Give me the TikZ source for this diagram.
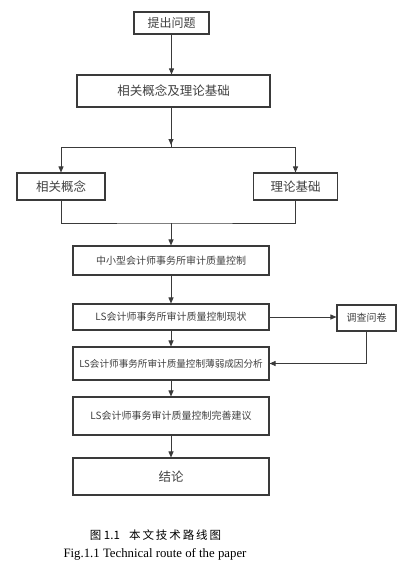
\documentclass[tikz,border=0pt]{standalone}
\usepackage{fontspec}
\newfontfamily\cjk{Noto Sans CJK SC}
\newfontfamily\enserif{Liberation Serif}
\usetikzlibrary{arrows.meta}
\definecolor{ln}{HTML}{3A3A3A}
\definecolor{tx}{HTML}{404040}
\begin{document}
\begin{tikzpicture}[x=1pt,y=-1pt,
  box/.style={draw=ln,line width=1.1pt,rectangle,inner sep=0pt,text=tx,font=\cjk},
  arr/.style={draw=ln,line width=0.9pt,-{Triangle[length=6pt,width=5pt]}},
  ln/.style={draw=ln,line width=0.9pt}]
\useasboundingbox (0,0) rectangle (405,573);
\node[box,minimum width=75pt,minimum height=22pt,font=\cjk\fontsize{12}{14}\selectfont] (q) at (171.5,23) {提出问题};
\node[box,minimum width=193pt,minimum height=32pt,font=\cjk\fontsize{12.5}{14}\selectfont] (b) at (173.5,91) {相关概念及理论基础};
\node[box,minimum width=88pt,minimum height=27pt,font=\cjk\fontsize{12.5}{14}\selectfont] (l) at (61,186.5) {相关概念};
\node[box,minimum width=84pt,minimum height=27pt,font=\cjk\fontsize{12.5}{14}\selectfont] (r) at (295.5,186.5) {理论基础};
\node[box,minimum width=196pt,minimum height=29pt,font=\cjk\fontsize{10}{12}\selectfont] (c1) at (171,260.5) {中小型会计师事务所审计质量控制};
\node[box,minimum width=196pt,minimum height=26pt,font=\cjk\fontsize{10}{12}\selectfont] (c2) at (171,317) {LS会计师事务所审计质量控制现状};
\node[box,minimum width=59pt,minimum height=26pt,font=\cjk\fontsize{10}{12}\selectfont] (s) at (366.5,318) {调查问卷};
\node[box,minimum width=196pt,minimum height=33pt,font=\cjk\fontsize{9.6}{12}\selectfont] (c3) at (171,363.5) {LS会计师事务所审计质量控制薄弱成因分析};
\node[box,minimum width=196pt,minimum height=38pt,font=\cjk\fontsize{10}{12}\selectfont] (c4) at (171,416) {LS会计师事务审计质量控制完善建议};
\node[box,minimum width=196pt,minimum height=37pt,font=\cjk\fontsize{12.5}{14}\selectfont] (c5) at (171,476.5) {结论};
\coordinate (fork) at (171,147);
\coordinate (join) at (171,223);
\draw[arr] (q.south) -- (q.south |- b.north);
\draw[ln] (b.south -| fork) -- (fork);
\draw[arr] (b.south -| fork) -- ([yshift=2pt]fork);
\draw[arr] (fork) -| (l.north);
\draw[arr] (fork) -| (r.north);
\draw[ln] (l.south) |- (join) -| (r.south);
\draw[arr] (join) -- (c1.north);
\draw[arr] (c1.south) -- (c2.north);
\draw[arr] (c2.east) -- (c2.east -| s.west);
\draw[arr] (c2.south) -- (c3.north);
\draw[arr] (s.south) |- (c3.east);
\draw[arr] (c3.south) -- (c4.north);
\draw[arr] (c4.south) -- (c5.north);
\node[inner sep=0pt,font=\cjk\fontsize{11.5}{13}\selectfont] (cap1) at (155.5,535) {图 1.1\hspace{0.8em}本\,文\,技\,术\,路\,线\,图};
\node[inner sep=0pt,font=\enserif\fontsize{12.8}{14}\selectfont] (cap2) at (155,554) {Fig.1.1 Technical route of the paper};
\end{tikzpicture}
\end{document}
